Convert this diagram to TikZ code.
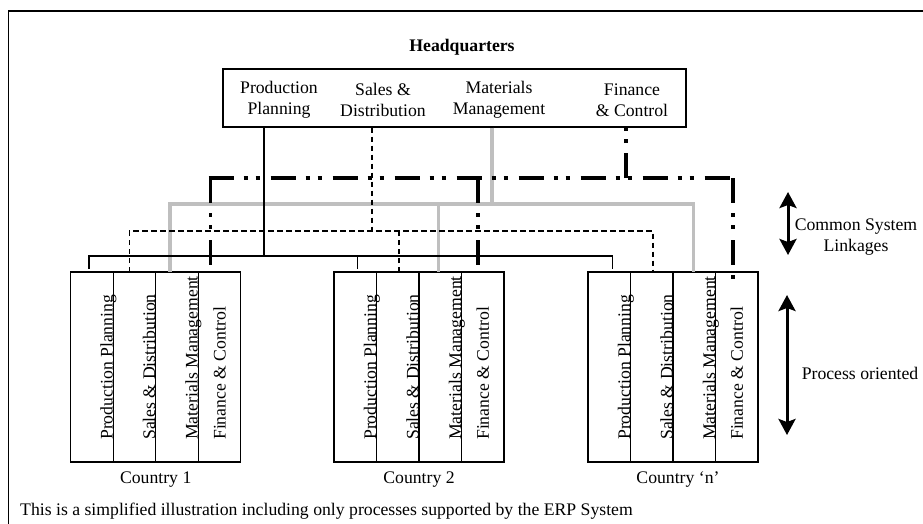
\documentclass[tikz,border=0pt]{standalone}
\usepackage{fontspec}
\setmainfont{Liberation Serif}
\usetikzlibrary{positioning,arrows.meta}
\tikzset{hqbox/.style={draw,line width=1.2pt,minimum width=463pt,minimum height=58pt,inner sep=0pt}}
\tikzset{col/.style={draw,line width=1.2pt,minimum width=42.5pt,minimum height=190pt,inner sep=0pt,outer sep=0pt}}
\tikzset{coltext/.style={rotate=90,anchor=base west,inner sep=0pt}}
\tikzset{pplink/.style={line width=1.2pt}}
\tikzset{sdlink/.style={line width=1.5pt,dash pattern=on 5.5pt off 3.5pt}}
\tikzset{mmlink/.style={line width=3.2pt,draw=gray!50}}
\tikzset{fclink/.style={line width=3.8pt,dash pattern=on 25pt off 10pt on 4pt off 8pt on 4pt off 11pt}}
\tikzset{bigarrow/.style={line width=3pt,{Stealth[inset=3pt,width=17pt,length=16pt]}-{Stealth[inset=3pt,width=17pt,length=16pt]}}}

\begin{document}
\begin{tikzpicture}[x=1pt,y=-1pt,font=\fontsize{17.7}{21}\selectfont]
        \useasboundingbox (0,0) rectangle (923,523);
        \draw[line width=1.2pt] (8.5,11) rectangle (980,580);

        % headquarters
        \node[font=\fontsize{17.7}{21}\selectfont\bfseries] (hqtitle) at (462,47) {Headquarters};
        \node[hqbox] (hq) at (454.5,98) {};
        \node[align=center] (hqpp) at (279,100) {Production\\Planning};
        \node[align=center] (hqsd) at (383,100) {Sales \&\\Distribution};
        \node[align=center] (hqmm) at (499,100) {Materials\\Management};
        \node[align=center] (hqfc) at (632,100) {Finance\\\& Control};

        % countries
        \node[col] (c1pp) at (91.95,367) {};
        \node[col,right=0pt of c1pp] (c1sd) {};
        \node[col,right=0pt of c1sd] (c1mm) {};
        \node[col,right=0pt of c1mm] (c1fc) {};
        \node[col] (c2pp) at (355.25,367) {};
        \node[col,right=0pt of c2pp] (c2sd) {};
        \node[col,right=0pt of c2sd] (c2mm) {};
        \node[col,right=0pt of c2mm] (c2fc) {};
        \node[col] (cnpp) at (609.25,367) {};
        \node[col,right=0pt of cnpp] (cnsd) {};
        \node[col,right=0pt of cnsd] (cnmm) {};
        \node[col,right=0pt of cnmm] (cnfc) {};

        \node[coltext] (c1ppt) at ([xshift=-0.5pt,yshift=22pt]c1pp.south east) {Production Planning};
        \node[coltext] (c1sdt) at ([xshift=-0.5pt,yshift=22pt]c1sd.south east) {Sales \& Distribution};
        \node[coltext] (c1mmt) at ([xshift=-0.5pt,yshift=22pt]c1mm.south east) {Materials Management};
        \node[coltext,anchor=west] (c1fct) at ([yshift=22pt]c1fc.south) {Finance \& Control};
        \node[coltext] (c2ppt) at ([xshift=-0.5pt,yshift=22pt]c2pp.south east) {Production Planning};
        \node[coltext] (c2sdt) at ([xshift=-0.5pt,yshift=22pt]c2sd.south east) {Sales \& Distribution};
        \node[coltext] (c2mmt) at ([xshift=-0.5pt,yshift=22pt]c2mm.south east) {Materials Management};
        \node[coltext,anchor=west] (c2fct) at ([yshift=22pt]c2fc.south) {Finance \& Control};
        \node[coltext] (cnppt) at ([xshift=-0.5pt,yshift=22pt]cnpp.south east) {Production Planning};
        \node[coltext] (cnsdt) at ([xshift=-0.5pt,yshift=22pt]cnsd.south east) {Sales \& Distribution};
        \node[coltext] (cnmmt) at ([xshift=-0.5pt,yshift=22pt]cnmm.south east) {Materials Management};
        \node[coltext,anchor=west] (cnfct) at ([yshift=22pt]cnfc.south) {Finance \& Control};

        \node[below=10pt of c1sd.south east,inner sep=0pt] (c1) {Country 1};
        \node[below=10pt of c2sd.south east,inner sep=0pt] (c2) {Country 2};
        \node[below=10pt of cnsd.south east,inner sep=0pt,xshift=5pt] (cn) {Country `n'};

        % system linkages
        \coordinate (ppjoin) at (264,256);
        \coordinate (sdjoin) at (372,231);
        \coordinate (mmjoin) at (492,204);
        \coordinate (fcjoin) at (626,178);

        \draw[mmlink] (hq.south -| mmjoin) -- (mmjoin);
        \draw[mmlink] ([xshift=-7pt]c1mm.north) |- (mmjoin) -| ([xshift=-1pt]cnmm.north);
        \draw[mmlink] ([xshift=-2pt]c2mm.north) -- ([xshift=-2pt]c2mm.north |- mmjoin);

        \draw[pplink] (hq.south -| ppjoin) -- (ppjoin);
        \draw[pplink] ([xshift=-3pt,yshift=3pt]c1pp.north) |- (ppjoin) -| ([xshift=3pt,yshift=3pt]cnpp.north);
        \draw[pplink] ([xshift=2pt,yshift=3pt]c2pp.north) -- ([xshift=2pt]c2pp.north |- ppjoin);

        \draw[sdlink] (hq.south -| sdjoin) -- (sdjoin);
        \draw[sdlink] ([xshift=-5pt]c1sd.north) |- (sdjoin) -| ([xshift=1pt]cnsd.north);
        \draw[sdlink] ([xshift=1pt]c2sd.north) -- ([xshift=1pt]c2sd.north |- sdjoin);

        \draw[fclink] (fcjoin) -- (hq.south -| fcjoin);
        \draw[fclink,shorten <=-1.9pt,shorten >=-1.9pt] ([xshift=-9pt]c1fc.north |- fcjoin) -- ([xshift=-4pt]cnfc.north |- fcjoin);
        \draw[fclink] ([xshift=-9pt]c1fc.north |- fcjoin) -- ([xshift=-9pt,yshift=7pt]c1fc.north);
        \draw[fclink] ([xshift=-5pt]c2fc.north |- fcjoin) -- ([xshift=-5pt,yshift=7pt]c2fc.north);
        \draw[fclink] ([xshift=-4pt]cnfc.north |- fcjoin) -- ([xshift=-4pt,yshift=-7pt]cnfc.north);

        % legend arrows
        \coordinate (csltop) at (788,192);
        \coordinate (cslbot) at (788,255);
        \coordinate (potop) at (787,295);
        \coordinate (pobot) at (787,435);
        \draw[bigarrow] (csltop) -- (cslbot);
        \draw[bigarrow] (potop) -- (pobot);
        \node[align=center] (csl) at (856,237) {Common System\\Linkages};
        \node (po) at (860,373) {Process oriented};

        \node[anchor=base west,inner sep=0pt] (note) at (20,515) {This is a simplified illustration including only processes supported by the ERP System};
    \end{tikzpicture}
\end{document}
